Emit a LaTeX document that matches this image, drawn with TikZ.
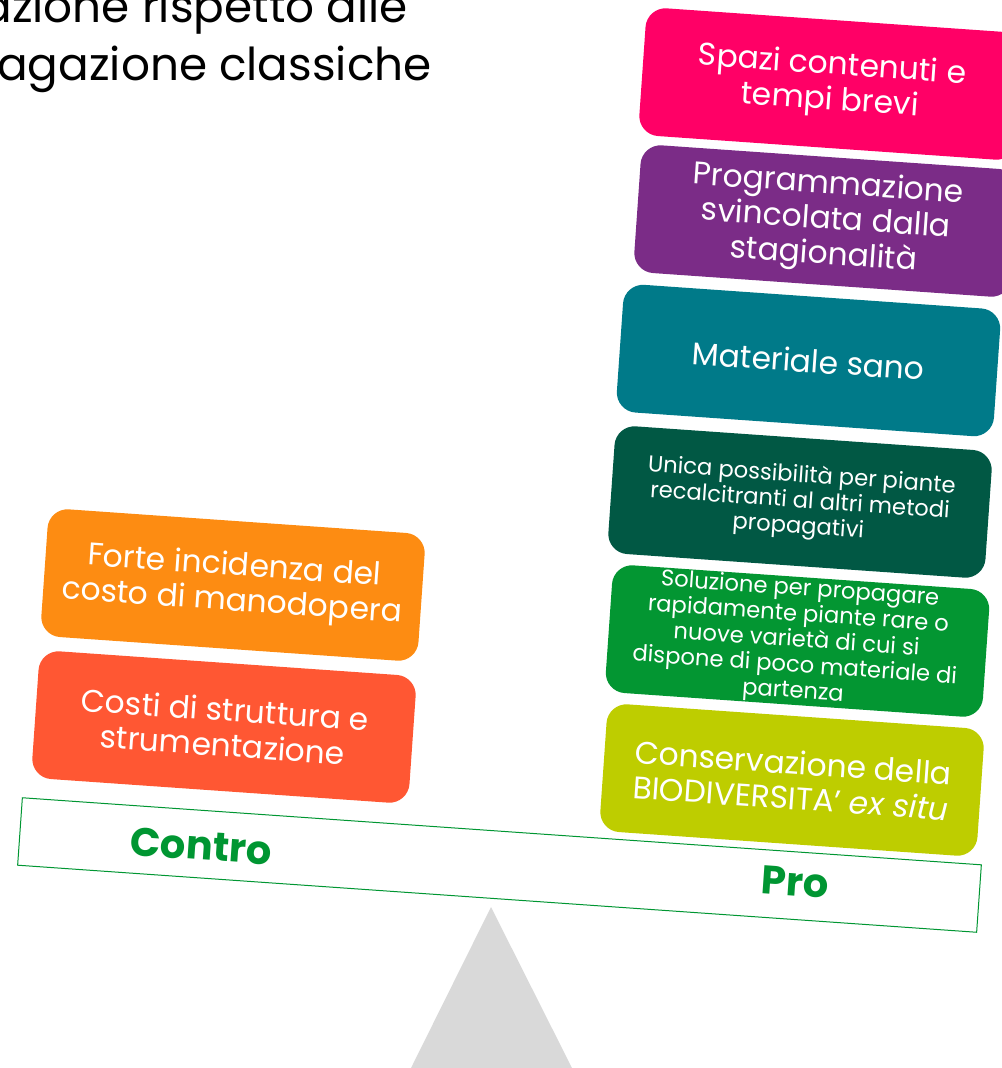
\documentclass[tikz,border=0pt]{standalone}
\usepackage{fontspec}
\setmainfont{Poppins}
\definecolor{cPink}{RGB}{255,0,102}
\definecolor{cPurple}{RGB}{123,44,135}
\definecolor{cTeal}{RGB}{0,122,137}
\definecolor{cDark}{RGB}{1,88,68}
\definecolor{cGreen}{RGB}{3,150,50}
\definecolor{cLime}{RGB}{190,205,0}
\definecolor{cOrange}{RGB}{253,140,18}
\definecolor{cRed}{RGB}{255,87,51}
\definecolor{cLabel}{RGB}{0,150,50}
\definecolor{cFulcrum}{RGB}{217,217,217}
\begin{document}
\begin{tikzpicture}[x=0.75pt,y=-0.75pt,
  box/.style={fill=#1, rounded corners=15pt, minimum width=283.5pt, minimum height=96pt,
    text=white, align=center, rotate=-4, inner sep=3pt},
  boxtext/.style={text=white, align=center, rotate=-4, inner sep=0pt},
  bigtxt/.style={font=\fontsize{23.5}{26.5}\selectfont},
  smalltxt/.style={font=\fontsize{17}{19.2}\selectfont},
  beam/.style={draw=cLabel, line width=0.75pt, fill=white, minimum width=721pt, minimum height=50.7pt, rotate=-4},
  side/.style={text=cLabel, font=\fontsize{30}{32}\bfseries\selectfont, rotate=-4},
  title/.style={font=\fontsize{34}{40}\selectfont, text=black, inner sep=0pt}]
\useasboundingbox (0,0) rectangle (1002,1068);
\clip (0,0) rectangle (1002,1068);

% title (cut off at the left and top)
\node[title, anchor=base east] (t1) at (408,22) {azione rispetto alle};
\node[title, anchor=base east] (t2) at (432,80) {agazione classiche};

% pro boxes
\node[box=cPink, bigtxt] (p1) at (831,84) {Spazi contenuti e\\tempi brevi};
\node[box=cPurple, bigtxt] (p2) at (826,221) {Programmazione\\svincolata dalla\\stagionalità};
\node[box=cTeal, bigtxt] (p3) at (808.5,360.5) {Materiale sano};
\node[box=cDark] (p4) at (800,502) {};
\node[boxtext, smalltxt] (p4t) at (p4.center) {Unica possibilità per piante\\recalcitranti al altri metodi\\propagativi};
\node[box=cGreen] (p5) at (797.5,641) {};
\node[box=cLime, bigtxt] (p6) at (792,780) {Conservazione della\\BIODIVERSITA’ \emph{ex situ}};
\node[boxtext, smalltxt] (p5t) at ([shift={(-1,0)}]p5.center) {Soluzione per propagare\\rapidamente piante rare o\\nuove varietà di cui si\\dispone di poco materiale di\\partenza};

% contro boxes
\node[box=cOrange, bigtxt] (c1) at (233,585) {Forte incidenza del\\costo di manodopera};
\node[box=cRed, bigtxt] (c2) at (224,727) {Costi di struttura e\\strumentazione};

% beam
\node[beam] (bar) at (499.5,865) {};
\node[side] (contro) at (201,846) {Contro};
\node[side] (pro) at (795,882) {Pro};

% fulcrum
\coordinate (apex) at (491,907);
\coordinate (bl) at (411,1068);
\coordinate (br) at (572,1068);
\fill[cFulcrum] (apex) -- (bl) -- (br) -- cycle;
\end{tikzpicture}
\end{document}
